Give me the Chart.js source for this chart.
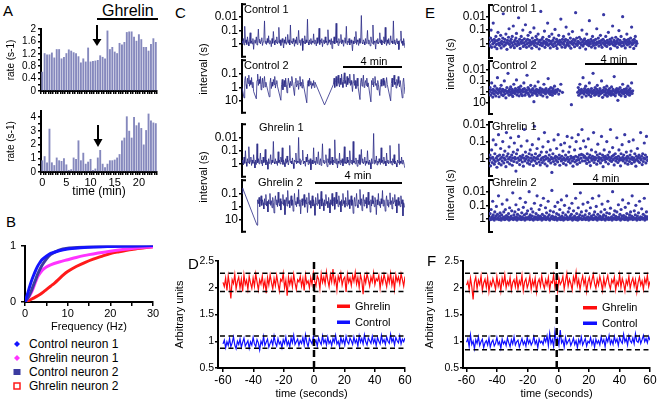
<!DOCTYPE html>
<html>
<head>
<meta charset="utf-8">
<script src="https://cdn.jsdelivr.net/npm/chart.js@4.4.1/dist/chart.umd.min.js"></script>
<style>
  body { margin: 0; background: #fff; }
  #fig { position: relative; width: 661px; height: 404px; overflow: hidden; font-family: "Liberation Sans", Arial, sans-serif; color: #000; }
  #fig canvas { position: absolute; }
  .t { position: absolute; white-space: nowrap; line-height: 1; }
  #fig svg { position: absolute; left: 0; top: 0; }
</style>
</head>
<body>
<div id="fig"></div>
<script>
// ---------- A: firing rate histograms (0.5 min bins) ----------
const aTime = [0,0.5,1,1.5,2,2.5,3,3.5,4,4.5,5,5.5,6,6.5,7,7.5,8,8.5,9,9.5,10,10.5,11,11.5,
               12,12.5,13,13.5,14,14.5,15,15.5,16,16.5,17,17.5,18,18.5,19,19.5,20,20.5,21,21.5,22,22.5,23,23.5];
const rateTop = [0.62,1.22,1.18,1.18,1.24,1.08,1.35,1.35,1.05,1.10,1.22,1.34,1.30,1.25,1.22,1.12,0.92,1.05,0.95,1.40,0.95,0.97,0.98,1.00,
                 1.15,1.10,1.05,1.95,1.35,1.42,1.27,1.22,1.55,1.50,1.58,1.90,1.92,1.92,1.75,1.62,1.83,1.67,1.42,1.42,1.30,1.52,1.70,1.58];
const rateBottom = [0.85,1.15,0.70,3.15,0.70,0.50,1.05,0.85,0.80,1.00,0.55,0.15,0.20,1.05,0.95,2.30,0.85,1.40,0.60,0.75,0.95,0.15,0.25,1.05,
                    1.60,0.60,0.35,0.60,0.85,0.85,0.90,1.05,1.30,2.30,2.50,4.05,3.00,2.50,4.00,3.40,3.60,3.20,2.00,3.05,4.25,3.75,3.60,3.55];
const aTopTicks = [0,0.2,0.4,0.6,0.8,1,1.2,1.4,1.6,1.8,2];
const aTopLabels = ['0','','0.4','','0.8','','1.2','','1.6','','2'];
const aBotTicks = [0,0.5,1,1.5,2,2.5,3,3.5,4];
const aBotLabels = ['0','','1','','2','','3','','4'];

// ---------- B: cumulative frequency distributions ----------
const freqCtrl1 = [0,0.5,1,1.5,2,2.5,3,3.5,4,5,6,8,10,13,16,20,25,30];
const cdfCtrl1  = [0,0.12,0.25,0.37,0.47,0.56,0.64,0.70,0.75,0.81,0.86,0.91,0.94,0.96,0.975,0.985,0.995,1];
const freqGhr1  = [0,0.5,1,1.5,2,2.5,3,4,5,6,8,10,12,15,20,25,30];
const cdfGhr1   = [0,0.05,0.10,0.17,0.26,0.36,0.45,0.56,0.62,0.66,0.71,0.75,0.79,0.84,0.90,0.95,0.98];
const freqCtrl2 = [0,0.5,1,1.5,2,2.5,3,4,5,6,8,10,13,16,20,25,30];
const cdfCtrl2  = [0,0.05,0.12,0.20,0.30,0.40,0.50,0.65,0.76,0.84,0.92,0.955,0.97,0.98,0.99,0.995,1];
const freqGhr2  = [0,1,2,3,4,5,6,7,8,9,10,12,14,16,18,20,22,25,28,30];
const cdfGhr2   = [0.01,0.03,0.07,0.11,0.16,0.22,0.28,0.34,0.41,0.48,0.54,0.63,0.70,0.76,0.81,0.86,0.89,0.93,0.96,0.98];
const bTicks = [0,5,10,15,20,25,30];
const bLabels = ['0','','10','','20','','30'];

// ---------- C: interval traces (s), null = no spike in that slot ----------
const cCtrl1 = [0.6,0.9,0.4,1.2,0.05,0.8,0.5,1.1,0.3,0.7,1.4,0.5,0.15,0.9,0.6,1.0,0.4,2.5,0.7,0.5,
  0.9,0.3,1.2,0.6,0.08,0.8,0.45,1.0,0.6,0.35,1.3,0.7,0.5,0.02,0.9,0.6,1.1,0.4,0.8,0.25,
  1.0,0.55,0.7,1.6,0.4,0.9,0.12,0.6,1.2,0.5,0.8,0.3,1.0,0.7,0.06,0.9,0.5,1.3,0.6,0.4,
  0.8,2.0,0.5,0.9,0.3,1.1,0.7,0.2,0.9,0.5,1.2,0.04,0.8,0.6,1.0,0.4,0.7,1.5,0.5,0.9,
  0.3,1.1,0.6,0.1,0.8,0.5,1.3,0.7,0.4,3.0,0.6,0.9,0.25,1.0,0.5,0.8,0.015,0.7,1.2,0.5,
  0.9,0.4,1.1,0.6,0.8,0.18,1.0,0.5,0.7,1.4,0.35,0.9,0.6,0.07,1.1,0.5,0.8,0.4,1.6,0.7,
  0.5,1.0,0.3,0.8,0.6,1.2,0.09,0.9,0.5,0.7,1.1,0.4,2.2,0.6,0.9,0.3,1.0,0.5,0.03,0.8,
  0.6,1.3,0.4,0.9,0.7,0.2,1.0,0.5,0.8,1.5,0.6,0.35,0.9,0.05,1.1,0.6,0.8,0.4,1.2,0.7,
  0.5,0.9,3.2,0.6,1.0,0.3,0.8,0.12,1.1,0.5,0.7,1.3,0.4,0.9,0.6,0.008,0.8,1.0,0.5,0.7,
  1.2,0.4,0.9,0.6,0.1,1.0,0.5,0.8,1.4,0.3,0.7,0.9,0.04,1.1,0.6,0.8,2.4,0.5,0.9,0.4,
  1.0,0.7,0.15,0.9,0.5,1.2,0.6,0.8,0.3,1.0,0.06,0.7,1.3,0.5,0.9,0.4,1.1,0.7,0.25,0.8,
  0.6,1.0,0.02,0.9,0.5,1.2,0.7,0.4,1.0,0.6,2.6,0.8,0.5,0.11,0.9,0.6,1.3,0.4,0.8,2.0];
const cCtrl2 = [1.0,null,null,6.0,0.3,0.15,0.6,1.2,0.2,0.5,0.12,0.8,0.3,0.6,0.18,1.0,0.4,2.0,null,null,
  null,7.0,0.3,0.1,0.7,0.25,0.5,0.15,1.5,0.6,0.2,1.0,0.35,0.15,0.9,0.4,0.7,null,null,null,
  5.0,0.5,0.2,1.2,0.4,0.8,0.25,0.6,0.15,1.1,0.5,0.3,0.8,null,null,null,null,9.0,0.6,0.25,
  1.5,0.5,0.3,0.9,0.2,0.6,2.5,0.8,0.2,0.5,1.0,0.35,0.7,0.15,null,null,null,4.0,0.4,0.2,
  0.9,0.6,0.3,1.4,0.5,0.15,0.8,0.4,1.1,0.25,0.6,null,null,null,null,14.0,0.5,0.3,0.8,0.2,
  0.6,0.35,1.2,0.5,0.7,0.3,1.0,0.4,null,null,null,null,null,null,null,null,null,null,null,null,
  null,20.0,null,null,null,null,null,null,null,null,null,null,null,null,0.6,0.2,1.0,0.4,0.15,0.8,
  0.3,0.12,0.5,0.9,0.2,0.6,0.1,0.4,1.0,0.25,0.08,0.5,0.3,0.9,0.15,0.6,0.2,0.45,0.1,0.7,
  0.3,0.6,2.0,0.4,0.1,0.7,0.3,1.2,0.5,0.2,0.8,null,null,8.0,0.4,0.2,0.8,0.35,0.12,1.0,
  0.5,0.3,0.7,0.2,0.9,0.45,null,null,null,12.0,0.3,0.6,0.2,0.9,0.4,0.15,0.7,0.5,1.5,0.3,
  0.6,null,4.0,0.6,0.25,0.8,0.4,0.2,0.7,0.3,1.0,0.5,0.18,0.6,null,null,null,null,10.0,0.5,
  0.2,0.9,0.3,0.12,0.6,0.4,1.1,0.25,0.7,0.15,0.5,0.9,0.3,null,null,6.0,0.4,0.2,0.8,3.0];
const cGhr1 = [0.8,0.5,1.2,0.3,0.9,0.1,0.7,1.5,0.4,0.8,0.05,1.0,0.6,0.3,1.3,0.5,0.9,0.2,0.7,2.0,
  0.5,1.1,0.03,0.8,0.4,1.0,0.6,0.15,0.9,0.5,1.4,0.3,0.8,0.6,0.08,1.2,0.5,0.7,2.5,0.4,
  0.9,0.6,0.2,1.1,0.5,0.8,0.02,0.7,1.0,0.4,0.9,0.6,1.3,0.12,0.8,0.5,1.0,0.3,0.7,0.06,
  1.1,0.5,0.8,1.6,0.4,0.9,0.25,0.7,1.2,0.5,0.04,0.8,0.6,1.0,0.35,0.9,2.2,0.5,0.7,0.15,
  1.0,0.6,0.8,0.01,0.9,0.4,1.2,0.7,0.5,0.09,1.0,0.6,0.8,1.5,0.3,0.7,0.18,1.1,0.5,0.9,
  0.4,2.8,0.7,0.5,1.0,0.06,0.8,0.6,1.2,0.3,0.9,0.5,0.12,1.1,0.7,0.4,1.3,0.6,0.03,0.8,
  0.5,1.0,0.7,0.2,0.9,1.6,0.4,0.8,0.07,1.1,0.6,0.9,0.3,1.2,0.5,0.8,0.015,0.7,1.0,0.4,
  2.0,0.6,0.9,0.15,1.1,0.5,0.8,0.4,1.4,0.6,0.05,0.9,0.7,1.0,0.3,0.8,0.5,1.2,0.1,0.7,
  0.9,0.5,1.1,0.02,0.8,0.6,1.0,0.35,0.7,1.5,0.5,0.9,0.2,1.1,0.6,0.08,0.8,0.4,1.0,0.7,
  0.3,1.3,0.6,0.9,0.1,0.7,1.1,0.5,0.8,2.4,0.4,0.9,0.6,0.005,1.0,0.5,0.8,0.25,1.2,0.6,
  0.9,0.4,0.7,1.1,0.06,0.8,0.5,1.0,0.3,0.9,0.6,1.4,0.15,0.8,0.5,1.0,0.7,0.04,0.9,0.6,
  1.2,0.4,0.8,0.2,1.0,0.6,0.9,1.7,0.5,0.8,0.03,1.1,0.6,0.9,0.3,1.0,0.5,0.7,1.3,2.0];
const cGhr2 = [0.1,0.04,null,null,null,null,null,null,null,null,null,null,null,null,null,null,null,null,null,null,
  null,null,25,0.3,0.6,0.2,1.0,0.4,0.15,0.8,0.3,0.5,1.5,0.25,0.7,0.12,0.9,0.4,2.5,0.3,
  0.6,0.1,0.8,0.35,1.2,0.2,0.5,3.0,0.4,0.15,0.7,0.3,1.0,0.08,0.5,0.9,0.25,1.8,0.4,0.6,
  0.12,0.8,0.3,4.0,0.5,0.2,0.9,0.06,0.6,0.35,1.2,0.4,0.15,0.8,0.3,2.2,0.5,0.1,0.7,0.4,
  1.0,0.2,0.6,0.05,0.9,0.3,3.5,0.5,0.25,0.8,0.4,0.12,1.1,0.3,0.6,0.2,2.8,0.5,0.09,0.7,
  0.35,1.3,0.4,0.15,0.9,0.3,0.6,4.5,0.2,0.5,0.8,0.1,0.6,0.3,1.5,0.4,0.07,0.9,0.25,0.5,
  2.0,0.3,0.8,0.12,0.6,0.4,1.2,0.2,0.5,3.0,0.3,0.7,0.1,0.9,0.4,0.2,1.6,0.5,0.08,0.6,
  0.3,1.0,0.15,0.7,0.4,2.5,0.3,0.8,0.1,0.6,0.35,1.1,0.2,0.5,0.9,0.06,0.7,0.3,1.4,0.45,
  0.15,0.8,0.3,3.2,0.5,0.2,0.9,0.4,0.1,0.7,1.2,0.3,0.6,0.05,0.8,0.25,2.0,0.4,0.12,0.9,
  0.3,0.6,0.2,1.3,0.5,0.08,0.7,0.4,2.6,0.3,0.9,0.15,0.6,0.35,1.0,0.2,0.5,4.0,0.3,0.7,
  0.1,0.8,0.4,1.2,0.25,0.6,0.06,0.9,0.3,0.5,2.2,0.4,0.15,0.8,0.3,1.1,0.5,0.09,0.7,0.35,
  1.5,0.2,0.6,0.4,0.12,0.9,0.3,3.0,0.5,0.2,0.8,0.4,1.0,0.15,0.6,0.3,5.0,0.5,0.8,1.2];

// ---------- E: interval scatter (s) ----------
const eCtrl1 = [0.8,1.5,0.4,0.1,2.0,0.6,1.1,0.03,0.9,0.5,1.8,0.7,0.3,1.2,2.5,0.6,0.15,1.0,0.5,1.4,
  0.9,0.25,2.2,0.7,1.1,0.4,0.006,1.6,0.8,0.5,1.3,0.2,0.9,2.8,0.6,1.0,0.35,0.08,1.2,0.7,
  1.9,0.5,0.9,0.3,1.4,0.05,0.8,2.1,0.6,1.1,0.4,0.18,1.5,0.7,0.9,0.012,1.2,0.5,2.4,0.8,
  0.3,1.0,0.6,0.1,1.7,0.9,0.45,1.3,0.04,0.7,2.0,1.1,0.5,0.25,0.9,1.6,0.6,0.15,1.2,0.8,
  2.3,0.4,1.0,0.7,0.07,1.4,0.6,0.9,0.3,1.8,0.5,1.1,0.2,0.8,2.6,0.6,1.3,0.004,0.9,0.5,
  1.5,0.35,1.0,0.7,0.12,2.0,0.8,1.2,0.5,0.9,0.03,1.4,0.6,0.3,1.1,2.2,0.7,0.9,0.2,1.3,
  0.6,1.7,0.4,1.0,0.09,0.8,1.5,0.5,2.4,0.7,1.1,0.25,0.9,0.6,1.3,0.015,0.8,1.9,0.5,1.0,
  0.3,1.2,0.7,2.0,0.5,0.06,1.4,0.9,0.6,1.1,0.2,1.6,0.8,0.4,2.3,1.0,0.7,0.13,1.2,0.5,
  0.9,1.8,0.6,0.005,1.1,0.4,1.4,0.8,0.7,1.0,0.35,2.1,0.9,0.5,1.3,0.1,0.8,1.6,0.6,1.1,
  0.45,1.0,2.7,0.7,0.2,1.2,0.9,0.6,1.5,0.02,0.8,1.1,0.5,1.9,0.7,0.3,1.0,1.4,0.6,0.9,
  2.2,0.5,1.2,0.08,0.8,1.0,0.4,1.6,0.7,0.9,0.25,1.3,0.6,2.0,0.9,0.5,0.007,1.1,0.7,1.4,
  0.3,0.9,1.7,0.6,1.0,0.15,0.8,1.2,0.5,2.5,0.7,1.0,0.4,0.05,1.3,0.8,0.6,1.5,0.9,0.35,
  1.1,0.7,2.0,0.5,0.9,0.11,1.2,0.6,1.0,0.3,1.6,0.8,0.01,0.9,1.4,0.5,0.7,2.2,1.0,0.6,
  0.2,1.3,0.8,0.5,1.1,0.7,1.8,0.4,0.9,0.06,1.2,0.6,1.0,2.4,0.5,0.8,0.3,1.5,0.7,1.0];
const eCtrl2 = [1.0,0.4,2.0,0.7,0.15,1.3,3.0,0.6,0.9,1.6,0.3,0.8,2.4,1.1,0.5,0.05,1.4,0.7,2.8,0.9,
  0.5,1.2,0.25,1.8,0.8,0.6,2.2,1.0,0.1,1.5,0.7,3.5,0.9,0.4,1.3,0.02,0.8,2.0,0.6,1.1,
  0.35,1.7,0.9,0.6,2.6,1.2,0.2,0.8,1.4,0.5,0.9,0.08,1.9,0.7,1.1,0.4,2.3,0.6,1.0,0.3,
  1.5,0.8,2.2,0.6,1.0,0.15,0.5,2.0,0.9,1.3,0.7,0.03,1.2,0.4,1.7,0.6,2.5,0.9,0.25,1.1,
  0.7,1.9,0.5,1.2,8.0,0.8,0.3,1.4,1.0,0.6,2.1,0.9,0.12,1.3,0.7,1.0,0.45,1.8,0.8,1.1,
  0.6,2.4,0.9,0.2,1.2,0.7,1.5,0.5,1.0,3.0,0.8,0.06,1.3,0.6,0.9,1.7,0.4,1.1,0.8,2.0,
  0.5,1.2,0.9,0.3,1.4,0.7,null,1.0,null,0.6,null,1.6,null,0.8,null,0.2,null,null,1.1,null,
  null,null,null,null,null,null,null,null,null,null,null,null,null,null,null,15.0,null,null,null,null,
  null,null,null,null,null,null,null,1.1,0.4,2.0,0.7,0.2,1.4,0.9,0.6,3.0,1.2,0.05,0.8,1.6,
  0.5,1.0,0.3,2.4,0.7,1.3,0.9,0.6,1.8,0.15,1.1,0.8,2.6,0.5,1.4,0.9,0.02,1.2,0.7,2.0,
  0.4,1.0,1.6,0.6,0.25,1.3,0.8,2.2,1.0,0.5,1.5,0.8,0.1,1.2,3.2,0.7,1.0,0.4,1.9,0.9,
  0.6,1.4,0.3,2.5,1.1,0.7,1.6,0.5,1.2,0.9,2.0,0.35,1.4,0.8,0.6,1.7,0.04,1.0,2.3,0.7,
  1.3,0.5,0.9,6.0,0.6,1.1,1.7,0.4,0.9,2.3,0.7,1.3,0.2,1.0,1.5,0.6,0.9,2.6,1.2,0.5,
  0.8,1.6,0.3,1.1,0.7,2.0,0.5,1.3,0.9,0.15,1.4,0.8];
const eGhr1 = [1.2,0.6,2.5,0.9,0.3,1.6,0.8,0.08,1.1,2.0,0.5,1.4,0.15,0.9,3.0,0.7,1.2,0.04,1.8,0.6,
  1.0,0.25,2.2,0.8,1.3,0.1,0.6,1.7,0.9,0.35,1.1,2.8,0.03,0.7,1.5,0.5,1.0,0.2,1.9,0.8,
  0.06,1.2,0.6,2.3,0.9,0.4,1.4,0.12,0.8,1.0,5.0,0.5,1.6,0.3,0.9,0.05,1.2,2.1,0.7,1.1,
  0.18,0.8,1.5,0.6,2.6,0.9,0.02,1.3,0.4,1.0,0.7,0.09,1.7,0.8,1.2,0.5,2.0,0.3,0.9,1.4,
  0.6,0.15,1.1,2.4,0.8,0.013,1.3,0.5,0.9,1.8,0.25,1.0,0.7,0.07,1.5,0.6,2.2,1.1,0.4,0.9,
  1.6,0.2,0.8,1.2,0.03,1.9,0.7,1.0,0.4,2.5,0.9,0.1,1.3,0.6,1.1,0.3,1.7,0.8,6.0,1.0,
  0.5,1.4,0.08,0.9,2.0,0.7,1.2,0.25,0.8,1.5,0.04,1.0,0.6,2.3,0.9,0.15,1.3,0.7,1.1,0.35,
  1.8,0.9,0.12,1.2,0.6,2.2,1.0,0.05,0.8,1.4,0.4,1.1,0.2,1.7,0.7,0.9,0.06,1.3,2.6,0.8,
  1.0,0.3,1.5,0.7,0.1,1.2,2.0,0.8,0.04,1.1,0.6,1.6,0.25,0.9,0.55,0.02,1.3,0.6,0.09,0.8,
  0.7,1.3,0.2,0.9,1.8,0.5,1.1,0.07,0.8,1.5,0.6,2.4,0.9,0.3,1.2,0.7,1.0,0.03,1.6,0.8,
  1.1,0.4,0.9,2.0,0.6,0.14,1.3,0.8,1.0,0.5,1.7,0.9,0.05,1.2,0.6,2.8,0.8,0.3,1.1,0.7,
  1.5,0.9,0.1,1.0,0.6,1.9,0.8,0.4,1.2,0.02,0.9,1.4,0.7,0.22,1.1,0.6,2.2,0.9,0.5,1.3,
  0.8,0.06,1.0,1.6,0.7,0.3,1.2,0.9,2.5,0.5,1.1,0.15,0.8,1.3,0.6,1.0,0.04,1.7,0.9,0.4,
  1.2,0.7,2.0,0.9,0.1,1.4,0.6,1.0,0.35,1.8,0.8,1.1,0.08,0.9,1.5,0.5,1.2,2.6,0.7,1.0,
  0.25,1.3,0.8,0.6,1.6,0.9,0.03,1.1,0.7,2.1,0.5,1.4,0.9,0.12,1.0,0.6,1.7,0.05,0.8,1.2];
const eGhr2 = [0.9,0.4,1.1,0.2,0.7,1.0,0.05,0.5,0.8,1.2,0.3,0.9,0.6,0.12,1.0,0.45,0.8,0.02,1.1,0.6,
  0.35,0.9,1.2,0.5,0.08,0.8,1.0,0.3,0.7,1.1,0.2,0.9,0.55,0.04,1.0,0.7,0.4,1.2,0.15,0.8,
  1.0,0.6,0.25,0.9,0.012,1.1,0.5,0.8,0.3,1.0,0.09,0.7,1.2,0.45,0.9,0.2,1.0,0.6,0.03,0.8,
  1.1,0.35,0.7,1.0,0.14,0.9,0.5,1.2,0.06,0.8,0.4,1.0,0.25,0.9,0.7,0.01,1.1,0.5,0.8,0.18,
  1.0,0.6,0.3,1.2,0.9,0.07,0.7,1.0,0.4,0.8,0.02,1.1,0.55,0.9,0.2,1.0,0.65,0.1,0.8,1.2,
  0.45,0.9,0.03,1.0,0.6,0.8,0.15,1.1,0.35,0.9,0.7,0.05,1.0,0.5,1.2,0.25,0.8,0.9,0.008,0.6,
  1.0,0.3,0.8,1.1,0.12,0.7,0.95,0.4,1.2,0.06,0.9,0.5,1.0,0.2,0.75,1.1,0.04,0.6,0.9,0.35,
  1.2,0.8,0.1,1.0,0.5,0.9,0.02,0.7,1.1,0.3,0.85,0.16,1.0,0.6,0.9,0.45,0.07,1.2,0.8,0.25,
  1.0,0.6,0.9,0.03,1.1,0.4,0.8,1.2,0.15,0.7,1.0,0.5,0.012,0.9,0.3,1.1,0.6,0.08,1.0,0.8,
  0.9,0.5,1.1,0.25,0.8,1.0,0.06,0.7,1.2,0.4,0.9,0.15,1.0,0.6,0.85,0.03,1.1,0.5,0.9,0.3,
  1.0,0.7,0.12,0.9,1.2,0.45,0.8,0.02,1.0,0.6,0.9,0.3,1.1,0.08,0.7,1.0,0.5,0.95,0.2,1.2,
  0.6,0.9,0.35,1.0,0.05,0.8,1.1,0.4,0.9,0.16,1.0,0.7,1.2,0.01,0.85,0.5,1.0,0.25,0.9,0.65,
  1.1,0.3,0.8,1.0,0.09,0.7,0.95,0.45,1.2,0.2,0.9,0.6,0.04,1.0,0.55,0.85,1.1,0.14,0.7,1.0,
  0.4,0.9,1.2,0.07,0.8,0.5,1.0,0.3,0.9,0.6,0.02,1.1,0.75,0.9,0.25,1.0,0.5,0.1,0.85,1.2,
  0.6,1.0,0.35,0.9,0.05,1.1,0.7,0.95,0.18,0.8,1.0,0.45,0.9,0.03,1.2,0.6,0.85,0.3,1.0,0.7];

// ---------- D / F: averaged traces (arbitrary units), -60..60 s ----------
const dGhrelin = [2.10,2.02,2.18,1.95,2.22,2.05,1.80,2.15,2.08,2.25,1.98,2.12,2.20,2.00,2.16,1.93,2.24,2.06,2.14,1.97,
  2.21,2.09,1.99,2.18,2.03,2.26,2.11,1.96,2.15,2.07,2.22,2.01,2.13,1.90,2.19,2.05,2.24,2.10,1.98,2.17,
  2.04,2.23,2.08,1.94,2.16,2.12,2.27,2.00,2.14,1.85,2.20,2.06,2.18,2.02,2.25,2.09,1.97,2.15,2.11,2.21,
  2.03,2.17,1.95,2.24,2.08,2.13,2.00,2.19,2.06,2.28,2.12,2.04,2.22,2.16,1.98,2.26,2.10,2.20,2.07,2.30,
  2.14,2.02,2.24,2.11,2.35,2.08,2.18,1.96,2.22,2.13,2.27,2.05,2.16,2.20,1.92,2.25,2.10,2.18,2.04,2.23,
  2.12,2.29,2.07,2.19,2.01,2.24,2.14,1.88,2.21,2.09,2.26,2.15,2.03,2.20,2.11,2.28,2.06,2.17,2.13,2.23,
  1.99,2.19,2.08,2.25,2.14,2.02,2.22,2.10,2.27,2.05,2.18,1.97,2.24,2.12,2.20,2.07,2.26,2.15,2.03,2.21];
const dControl = [0.95,1.02,0.88,0.99,0.92,1.05,0.90,0.97,1.08,0.93,0.86,1.00,0.94,1.04,0.89,0.98,1.06,0.91,0.96,1.01,
  0.87,0.99,0.93,1.07,0.95,0.90,1.03,0.97,0.84,1.00,0.94,1.09,0.92,0.98,1.04,0.89,0.96,1.02,0.93,1.10,
  0.97,0.91,1.05,0.95,0.99,0.88,1.03,0.96,1.08,0.93,1.00,0.90,1.06,0.97,1.11,0.94,0.99,1.04,0.92,1.01,
  0.96,1.07,0.93,1.12,0.98,0.90,1.05,1.00,0.95,1.09,0.97,1.02,0.91,1.06,0.99,0.94,1.10,0.97,1.03,0.93,
  1.08,0.96,1.01,0.92,1.05,0.98,1.11,0.95,1.00,0.90,1.07,0.97,1.04,0.93,1.09,0.99,0.95,1.06,1.01,0.94,
  1.08,0.97,1.03,0.91,1.10,0.98,1.05,0.95,1.12,0.99,0.93,1.06,1.01,0.96,1.09,0.97,1.04,0.92,1.07,1.00,
  0.95,1.11,0.98,1.03,0.94,1.08,1.00,0.96,1.13,0.99,1.05,0.93,1.07,1.01,0.97,1.10,0.95,1.04,0.99,1.06];
const fGhrelin = [2.05,2.12,1.96,2.18,2.02,1.78,2.10,2.20,1.98,2.14,2.06,2.22,1.95,2.09,2.16,2.01,2.19,1.93,2.11,2.04,
  2.17,2.08,1.97,2.21,2.03,2.13,1.94,2.18,2.07,2.24,2.00,2.12,2.05,2.19,1.96,2.10,2.15,2.02,2.20,1.98,
  2.13,2.06,2.23,1.95,2.11,2.17,2.00,2.08,2.21,1.97,2.14,2.04,2.18,1.92,2.10,2.16,2.03,2.22,2.07,1.99,
  2.15,2.05,2.19,1.96,2.12,2.09,2.24,2.01,2.14,1.94,2.18,2.06,2.11,2.21,1.98,2.13,2.27,2.03,2.16,2.08,
  1.96,2.20,2.10,2.29,2.04,2.15,1.97,2.12,2.22,2.06,2.17,1.93,2.11,2.19,2.02,2.14,2.25,2.08,1.99,2.16,
  2.05,2.21,2.10,1.95,2.18,2.03,2.13,2.23,2.07,1.98,2.15,2.09,2.20,1.96,2.12,2.05,2.24,2.01,2.17,2.08,
  1.94,2.14,2.06,2.21,1.99,2.11,2.18,2.03,2.15,1.92,2.10,2.20,2.05,2.13,1.97,2.17,2.08,2.23,2.02,2.12];
const fControl = [0.98,1.05,0.90,1.12,0.94,1.00,0.86,1.03,0.96,1.08,0.92,0.99,1.04,0.88,0.97,1.01,0.93,1.06,0.89,0.98,
  1.02,0.91,0.96,1.07,0.94,0.99,0.87,1.04,0.95,1.00,0.92,1.06,0.97,0.90,1.03,0.95,1.08,0.93,0.99,1.02,
  0.89,0.97,1.05,0.94,1.00,0.91,1.07,0.96,1.02,0.93,0.98,1.09,0.95,1.01,0.88,1.04,0.97,1.00,0.94,1.06,
  0.99,1.10,0.92,1.15,0.96,1.03,0.90,1.18,0.98,1.05,0.93,1.21,0.97,1.02,0.89,1.07,0.95,1.00,1.04,0.92,
  0.98,1.06,0.94,1.01,0.88,1.03,0.96,1.08,0.93,0.99,1.05,0.91,1.00,0.97,1.07,0.94,1.02,0.89,1.04,0.96,
  1.01,0.93,1.08,0.97,1.03,0.90,1.06,0.99,1.11,0.95,1.02,0.94,1.09,0.98,1.04,0.92,1.07,1.00,0.96,1.13,
  0.99,1.05,0.93,1.10,1.01,0.97,1.06,0.95,1.14,1.00,0.98,1.08,0.96,1.03,1.11,0.99,1.05,0.97,1.09,1.02];
const dRefs = [2.27, 1.93, 1.10, 0.87];
const fRefs = [2.27, 1.93, 1.10, 0.84];
const dfYTicks = [0.5, 1, 1.5, 2, 2.5];
const dfYLabels = ['0.5', '1', '1.5', '2', '2.5'];
const dfXTicks = [-60, -40, -20, 0, 20, 40, 60];
const dfXLabels = ['-60', '-40', '-20', '0', '20', '40', '60'];

// ============================================
const fig = document.getElementById('fig');
Chart.defaults.font.family = '"Liberation Sans", Arial, sans-serif';
Chart.defaults.color = '#000';

// bracket caps at both ends of the y axis (panels C and E)
Chart.register({
  id: 'bracket',
  afterDraw(chart, args, opts) {
    if (!opts || !opts.on) return;
    const s = chart.scales.y, c = chart.ctx;
    c.save();
    c.strokeStyle = '#000';
    c.lineWidth = 2;
    c.beginPath();
    c.moveTo(s.right - 1, s.top); c.lineTo(s.right + 4, s.top);
    c.moveTo(s.right - 1, s.bottom); c.lineTo(s.right + 4, s.bottom);
    c.stroke();
    c.restore();
  }
});

function fixed(ticks) {
  return s => { s.ticks = ticks.map(v => ({ value: v })); };
}

function axis(o) {
  const a = {
    border: { display: true, color: '#000', width: 2 },
    grid: { drawOnChartArea: false, drawTicks: true, tickLength: o.tl, color: '#000', lineWidth: 1.5 },
    ticks: { color: '#000', font: { size: o.size }, padding: o.pad, autoSkip: false, maxRotation: 0, callback: o.cb }
  };
  if (o.offset !== undefined) a.grid.offset = o.offset;
  if (o.title) a.title = { display: true, text: o.title, color: '#000', font: { size: o.tsize }, padding: o.tpad };
  return Object.assign(a, o.rest || {});
}

// plot = chart area in page pixels, pad = room for axes around it
function place(plot, pad, config) {
  const c = document.createElement('canvas');
  const W = pad.l + plot.w + pad.r, H = pad.t + plot.h + pad.b;
  c.width = W; c.height = H;
  c.style.left = (plot.x - pad.l) + 'px';
  c.style.top = (plot.y - pad.t) + 'px';
  c.style.width = W + 'px'; c.style.height = H + 'px';
  fig.appendChild(c);
  const o = config.options;
  const xHidden = o.scales.x.display === false;
  o.responsive = false;
  o.animation = false;
  o.devicePixelRatio = 1;
  o.layout = { padding: { top: pad.t, right: pad.r, left: 0, bottom: xHidden ? pad.b : 0 } };
  if (!xHidden) o.scales.x.afterFit = s => { s.height = pad.b; };
  o.scales.y.afterFit = s => { s.width = pad.l; };
  o.elements = { point: { radius: 0 }, line: { tension: 0 } };
  o.plugins = Object.assign({ legend: { display: false }, tooltip: { enabled: false } }, o.plugins || {});
  return new Chart(c, config);
}

function txt(s, x, y, size, how) {
  const d = document.createElement('div');
  d.className = 't';
  d.textContent = s;
  d.style.left = x + 'px';
  d.style.top = y + 'px';
  d.style.fontSize = size + 'px';
  d.style.transform = how === 'rot' ? 'translate(-50%,-50%) rotate(-90deg)'
    : how === 'c' ? 'translate(-50%,-50%)' : 'translate(0,-50%)';
  fig.appendChild(d);
}

// ---------- A ----------
const barFill = '#8588bd';
place({ x: 41, y: 29, w: 116, h: 64 }, { l: 41, t: 8, r: 4, b: 6 }, {
  type: 'bar',
  data: { labels: aTime, datasets: [{ data: rateTop, backgroundColor: barFill, barPercentage: 0.78, categoryPercentage: 1 }] },
  options: {
    scales: {
      x: axis({ tl: 3, size: 10, pad: 1, cb: () => '', offset: true }),
      y: axis({ tl: 3, size: 10, pad: 2, cb: (v, i) => aTopLabels[i], title: 'rate (s-1)', tsize: 10, tpad: { top: 5, bottom: 0 },
        rest: { min: 0, max: 2, afterBuildTicks: fixed(aTopTicks) } })
    }
  }
});
place({ x: 41, y: 111, w: 116, h: 61 }, { l: 41, t: 8, r: 6, b: 27 }, {
  type: 'bar',
  data: { labels: aTime, datasets: [{ data: rateBottom, backgroundColor: barFill, barPercentage: 0.78, categoryPercentage: 1 }] },
  options: {
    scales: {
      x: axis({ tl: 3, size: 11, pad: 1, cb: (v, i) => (i % 10 === 0 ? String(aTime[i]) : ''), offset: true,
        title: 'time (min)', tsize: 12, tpad: { top: 0, bottom: 0 } }),
      y: axis({ tl: 3, size: 10, pad: 2, cb: (v, i) => aBotLabels[i], title: 'rate (s-1)', tsize: 10, tpad: { top: 5, bottom: 0 },
        rest: { min: 0, max: 4.44, afterBuildTicks: fixed(aBotTicks) } })
    }
  }
});

// ---------- B ----------
const xy = (xs, ys) => xs.map((x, i) => ({ x, y: ys[i] }));
place({ x: 25, y: 242, w: 128, h: 60 }, { l: 25, t: 8, r: 8, b: 32 }, {
  type: 'line',
  data: {
    datasets: [
      { data: xy(freqCtrl1, cdfCtrl1), borderColor: '#1414ff', borderWidth: 3, tension: 0.3 },
      { data: xy(freqCtrl2, cdfCtrl2), borderColor: '#3b3ba0', borderWidth: 3, tension: 0.3 },
      { data: xy(freqGhr1, cdfGhr1), borderColor: '#ff33ff', borderWidth: 3, tension: 0.3 },
      { data: xy(freqGhr2, cdfGhr2), borderColor: '#ff1a1a', borderWidth: 3, tension: 0.3 }
    ]
  },
  options: {
    scales: {
      x: axis({ tl: 4, size: 11, pad: 1, cb: (v, i) => bLabels[i], title: 'Frequency (Hz)', tsize: 11, tpad: { top: 0, bottom: 0 },
        rest: { type: 'linear', min: 0, max: 30, afterBuildTicks: fixed(bTicks) } }),
      y: axis({ tl: 4, size: 11, pad: 5, cb: v => String(v), rest: { min: 0, max: 1, afterBuildTicks: fixed([0, 1]) } })
    }
  }
});

// ---------- C and E: interval panels ----------
function intervalPanel(plot, vals, lo, hi, ticks, dots) {
  const pts = vals.map((v, i) => ({ x: i, y: v }));
  const ds = dots
    ? { data: pts, showLine: false, pointRadius: 1.6, pointBackgroundColor: '#3838a4', pointBorderWidth: 0 }
    : { data: pts, borderColor: '#2b2b86', borderWidth: 0.8, spanGaps: true };
  return place(plot, { l: 40, t: 8, r: 4, b: 8 }, {
    type: dots ? 'scatter' : 'line',
    data: { datasets: [ds] },
    options: {
      scales: {
        x: { type: 'linear', display: false, min: dots ? -1 : 0, max: dots ? 300 : 239 },
        y: axis({ tl: 3, size: 12, pad: dots ? 0 : 1, cb: v => String(v),
          rest: { type: 'logarithmic', reverse: true, min: lo, max: hi, afterBuildTicks: fixed(ticks) } })
      },
      plugins: { bracket: { on: true } }
    }
  });
}
intervalPanel({ x: 242, y: 4, w: 163, h: 53 }, cCtrl1, 0.00117, 8.9, [0.01, 0.1, 1], false);
intervalPanel({ x: 242, y: 60, w: 163, h: 53 }, cCtrl2, 0.0091, 78, [0.1, 1, 10], false);
intervalPanel({ x: 242, y: 124, w: 163, h: 53 }, cGhr1, 0.001, 9.3, [0.01, 0.1, 1], false);
intervalPanel({ x: 242, y: 180, w: 163, h: 52 }, cGhr2, 0.01, 79, [0.1, 1, 10], false);

intervalPanel({ x: 489, y: 5, w: 159, h: 53 }, eCtrl1, 0.00132, 12.6, [0.01, 0.1, 1], true);
intervalPanel({ x: 489, y: 61, w: 159, h: 53 }, eCtrl2, 0.00148, 107, [0.01, 0.1, 1, 10], true);
intervalPanel({ x: 489, y: 122, w: 159, h: 54 }, eGhr1, 0.0074, 9.6, [0.01, 0.1, 1], true);
intervalPanel({ x: 489, y: 180, w: 159, h: 52 }, eGhr2, 0.00139, 8.9, [0.01, 0.1, 1], true);

// ---------- D and F ----------
function meanPanel(plot, padL, xmin, ghr, ctl, refs, vx, tpadTop) {
  const series = arr => arr.map((v, i) => ({ x: -60 + i * 120 / (arr.length - 1), y: v }));
  const dashed = refs.map(v => ({ data: [{ x: xmin + 1.3, y: v }, { x: 59, y: v }], borderColor: '#000', borderWidth: 1.5, borderDash: [5, 3.5] }));
  place(plot, { l: padL, t: 8, r: 10, b: 34 }, {
    type: 'line',
    data: {
      datasets: [
        { data: [{ x: vx, y: 0.5 }, { x: vx, y: 2.5 }], borderColor: '#000', borderWidth: 2.5, borderDash: [7, 4] },
        ...dashed,
        { data: series(ghr), borderColor: '#ff0d0d', borderWidth: 1.2 },
        { data: series(ctl), borderColor: '#1010ff', borderWidth: 1.2 }
      ]
    },
    options: {
      scales: {
        x: axis({ tl: 4, size: 12, pad: 1, cb: (v, i) => dfXLabels[i], title: 'time (seconds)', tsize: 11, tpad: { top: 0, bottom: 1 },
          rest: { type: 'linear', min: xmin, max: 60, afterBuildTicks: fixed(dfXTicks) } }),
        y: axis({ tl: 3, size: 10.5, pad: 1, cb: (v, i) => dfYLabels[i], title: 'Arbitrary units', tsize: 11, tpad: { top: tpadTop, bottom: 0 },
          rest: { min: 0.5, max: 2.5, afterBuildTicks: fixed(dfYTicks) } })
      }
    }
  });
}
meanPanel({ x: 218, y: 261, w: 187, h: 107 }, 46, -63.3, dGhrelin, dControl, dRefs, 0, 1);
meanPanel({ x: 463, y: 261, w: 187, h: 107 }, 40, -62.3, fGhrelin, fControl, fRefs, -1, 0);

// ---------- text ----------
txt('A', 3, 10, 15); txt('B', 6, 221, 15); txt('C', 175, 12, 15);
txt('D', 188, 263, 15); txt('E', 425, 12, 15); txt('F', 427, 260, 15);
txt('Ghrelin', 102, 11, 16);

txt('Control neuron 1', 29, 344, 12);
txt('Ghrelin neuron 1', 29, 358, 12);
txt('Control neuron 2', 29, 372, 12);
txt('Ghrelin neuron 2', 29, 386, 12);

txt('interval (s)', 203, 69, 11, 'rot'); txt('interval (s)', 203, 177, 11, 'rot');
txt('Control 1', 244, 9, 11); txt('Control 2', 244, 65, 11);
txt('Ghrelin 1', 259, 127, 11); txt('Ghrelin 2', 258, 182, 11);
txt('4 min', 374, 61, 11, 'c'); txt('4 min', 358, 175, 11, 'c');

txt('interval (s)', 450, 64, 11, 'rot'); txt('interval (s)', 450, 195, 11, 'rot');
txt('Control 1', 492, 8, 11); txt('Control 2', 492, 65, 11);
txt('Ghrelin 1', 492, 126, 11); txt('Ghrelin 2', 492, 182, 11);
txt('4 min', 614, 59, 11, 'c'); txt('4 min', 606, 178, 11, 'c');

txt('Ghrelin', 355, 306, 11); txt('Control', 355, 322, 11);
txt('Ghrelin', 602, 307, 11); txt('Control', 602, 323, 11);

// ---------- marks: arrows, scale bars, legend keys ----------
const svgNS = 'http://www.w3.org/2000/svg';
const svg = document.createElementNS(svgNS, 'svg');
svg.setAttribute('width', 661); svg.setAttribute('height', 404);
svg.innerHTML = `
  <line x1="97" y1="19" x2="158" y2="19" stroke="#000" stroke-width="2"/>
  <line x1="97" y1="25" x2="97" y2="40" stroke="#000" stroke-width="2"/>
  <polygon points="92.5,39 101.5,39 97,46" fill="#000"/>
  <line x1="98" y1="125" x2="98" y2="140" stroke="#000" stroke-width="2"/>
  <polygon points="93.5,139 102.5,139 98,147" fill="#000"/>
  <polygon points="17,341 20,344 17,347 14,344" fill="#1414ff"/>
  <polygon points="17,355 20,358 17,361 14,358" fill="#ff33ff"/>
  <rect x="13.5" y="369" width="7" height="6" fill="#3b3ba0"/>
  <rect x="14" y="383" width="6" height="6" fill="#fff" stroke="#ff1a1a" stroke-width="1.5"/>
  <line x1="343" y1="67" x2="402" y2="67" stroke="#000" stroke-width="2"/>
  <line x1="315" y1="183" x2="402" y2="183" stroke="#000" stroke-width="2"/>
  <line x1="585" y1="64" x2="637" y2="64" stroke="#000" stroke-width="2"/>
  <line x1="573" y1="184" x2="649" y2="184" stroke="#000" stroke-width="2"/>
  <rect x="337" y="304.5" width="13" height="3.5" fill="#ff0d0d"/>
  <rect x="337" y="320.5" width="13" height="3.5" fill="#1010ff"/>
  <rect x="583" y="306" width="14" height="3.5" fill="#ff0d0d"/>
  <rect x="583" y="321.5" width="14" height="3.5" fill="#1010ff"/>
`;
fig.appendChild(svg);
</script>
</body>
</html>
